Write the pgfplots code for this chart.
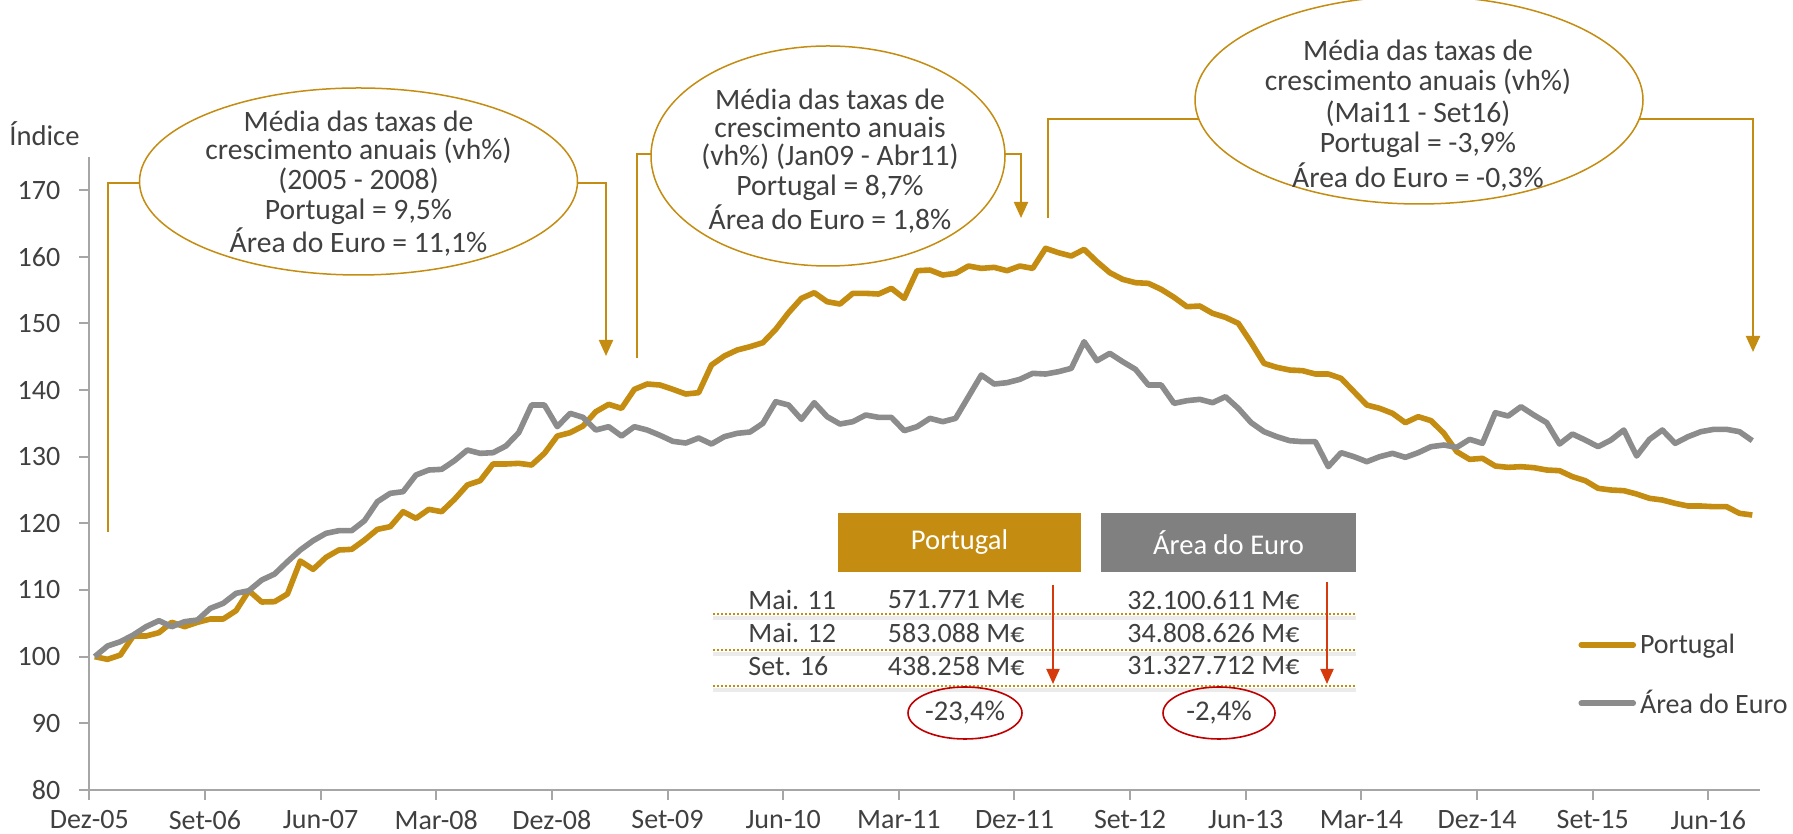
\documentclass[border=0pt]{standalone}
\usepackage{fontspec}
\setmainfont{Carlito}
\usepackage{pgfplots}
\usepackage{pgfplotstable}
\pgfplotsset{compat=1.18}
\usetikzlibrary{arrows.meta}
\definecolor{gold}{HTML}{C48C10}
\definecolor{lgray}{HTML}{8C8C8C}
\definecolor{hgray}{HTML}{808080}
\definecolor{txt}{HTML}{404040}
\definecolor{axgray}{HTML}{A6A6A6}
\definecolor{redar}{HTML}{D63A0C}
\definecolor{redel}{HTML}{C00000}

\pgfplotstableread{
i pt ea
0 100 100
1 99.6 101.6
2 100.25 102.25
3 103.1 103.25
4 103.1 104.5
5 103.6 105.4
6 105.15 104.5
7 104.5 105.25
8 105.15 105.5
9 105.65 107.25
10 105.65 108
11 106.9 109.5
12 109.9 109.9
13 108.2 111.5
14 108.25 112.4
15 109.4 114.25
16 114.35 116
17 113.1 117.4
18 114.9 118.5
19 116 118.9
20 116.1 118.9
21 117.5 120.4
22 119.1 123.25
23 119.5 124.5
24 121.75 124.75
25 120.75 127.25
26 122.1 128
27 121.75 128.1
28 123.6 129.4
29 125.75 131
30 126.4 130.5
31 128.9 130.6
32 128.9 131.6
33 129 133.6
34 128.75 137.75
35 130.5 137.75
36 133.1 134.5
37 133.6 136.5
38 134.6 135.9
39 136.75 134
40 137.85 134.5
41 137.25 133.1
42 140.1 134.5
43 140.9 134
44 140.75 133.2
45 140.1 132.3
46 139.4 132.05
47 139.6 132.8
48 143.75 131.9
49 145.1 133
50 146 133.5
51 146.5 133.7
52 147.1 135
53 149.1 138.25
54 151.6 137.75
55 153.75 135.6
56 154.6 138.1
57 153.25 136
58 152.9 134.9
59 154.5 135.25
60 154.5 136.25
61 154.4 135.9
62 155.25 135.9
63 153.75 133.9
64 157.9 134.5
65 158 135.75
66 157.25 135.25
67 157.5 135.75
68 158.6 139
69 158.25 142.25
70 158.4 140.9
71 157.9 141.1
72 158.6 141.6
73 158.25 142.5
74 161.25 142.4
75 160.6 142.75
76 160.1 143.25
77 161.1 147.25
78 159.25 144.4
79 157.6 145.5
80 156.6 144.25
81 156.1 143.1
82 156 140.75
83 155.1 140.75
84 153.9 138
85 152.5 138.4
86 152.6 138.6
87 151.5 138.1
88 150.9 139
89 150 137.25
90 147.1 135.1
91 144 133.75
92 143.4 133
93 143 132.4
94 142.9 132.25
95 142.4 132.25
96 142.4 128.5
97 141.75 130.6
98 139.75 130
99 137.75 129.25
100 137.25 130
101 136.5 130.5
102 135.1 129.9
103 136 130.6
104 135.4 131.5
105 133.5 131.75
106 130.75 131.4
107 129.6 132.6
108 129.75 132
109 128.6 136.6
110 128.4 136.1
111 128.5 137.5
112 128.35 136.25
113 128 135.1
114 127.9 131.9
115 127 133.4
116 126.4 132.5
117 125.25 131.5
118 125 132.5
119 124.9 134
120 124.4 130.1
121 123.75 132.6
122 123.5 134
123 123 132
124 122.6 133
125 122.6 133.75
126 122.5 134.1
127 122.5 134.1
128 121.5 133.75
129 121.25 132.4
}\datatable

\begin{document}
\begin{tikzpicture}[font=\fontsize{14.3}{17}\selectfont, text=txt]
\useasboundingbox (-44.65pt,-22pt) rectangle (851.85pt,395pt);
\begin{axis}[
  at={(0pt,0pt)}, anchor=south west,
  scale only axis, width=835.35pt, height=316.65pt,
  xmin=-0.42, xmax=129.6, ymin=80, ymax=175,
  axis x line=bottom, axis y line=left,
  axis line style={draw=axgray, line width=1pt, -},
  tick style={draw=axgray, line width=1pt},
  tick align=outside, major tick length=5pt,
  xtick={-0.42,8.58,17.58,26.58,35.58,44.58,53.58,62.58,71.58,80.58,89.58,98.58,107.58,116.58,125.58},
  xticklabels={Dez-05,Set-06,Jun-07,Mar-08,Dez-08,Set-09,Jun-10,Mar-11,Dez-11,Set-12,Jun-13,Mar-14,Dez-14,Set-15,Jun-16},
  ytick={80,90,100,110,120,130,140,150,160,170},
  ticklabel style={font=\fontsize{14}{16}\selectfont, text=txt},
  xticklabel style={inner sep=1pt, yshift=-4pt},
  yticklabel style={xshift=-6pt},
  /pgf/number format/assume math mode=true,
  clip=false,
  legend style={at={(0.8911,0.1816)}, anchor=west, draw=none, fill=none, inner sep=0pt,
    row sep=15pt, font=\fontsize{14}{16}\selectfont, text=txt,
    nodes={inner sep=1pt, anchor=west}},
  legend cell align=left,
  legend image code/.code={\draw[#1, line cap=round] (0pt,0pt) -- (26pt,0pt); \path (27pt,0pt);},
]
\addplot[gold, line width=2.8pt, line join=round] table[x=i,y=pt]{\datatable};
\addplot[lgray, line width=2.8pt, line join=round] table[x=i,y=ea]{\datatable};
\legend{Portugal, Área do Euro}
\end{axis}
\begin{scope}[x=0.5pt,y=-0.5pt,shift={(-44.65pt,395pt)}]
  % y label
  \node[anchor=west, inner sep=0pt] at (9,134) {Índice};
  % connectors
  \draw[gold, line width=1.1pt] (108,532) -- (108,183) -- (150,183);
  \draw[gold, line width=1.1pt, -{Triangle[width=7pt,length=8pt]}] (560,183) -- (606,183) -- (606,356);
  \draw[gold, line width=1.1pt] (637,358) -- (637,154) -- (660,154);
  \draw[gold, line width=1.1pt, -{Triangle[width=7pt,length=8pt]}] (990,154) -- (1021,154) -- (1021,218);
  \draw[gold, line width=1.1pt, -{Triangle[width=7pt,length=8pt]}] (1048,218) -- (1048,119) -- (1753,119) -- (1753,352);
  % ellipses
  \draw[gold, line width=0.75pt, fill=white] (358.5,181.5) ellipse [x radius=109.5pt, y radius=46.75pt];
  \draw[gold, line width=0.75pt, fill=white] (828,156) ellipse [x radius=88.5pt, y radius=55pt];
  \draw[gold, line width=0.75pt, fill=white] (1419,100) ellipse [x radius=112pt, y radius=52pt];
  % ellipse texts
  \begin{scope}[font=\fontsize{14.8}{17}\selectfont]
  \node at (358.5,121) {Média das taxas de};
  \node at (358.5,151) {crescimento anuais (vh\%)};
  \node at (358.5,181) {(2005 - 2008)};
  \node at (358.5,211.5) {Portugal = 9,5\%};
  \node at (358.5,242) {Área do Euro = 11,1\%};
  \node at (830,99.5) {Média das taxas de};
  \node at (830,127) {crescimento anuais};
  \node at (830,157) {(vh\%) (Jan09 - Abr11)};
  \node at (830,187.5) {Portugal = 8,7\%};
  \node at (830,219.5) {Área do Euro = 1,8\%};
  \node at (1418,50) {Média das taxas de};
  \node at (1418,82) {crescimento anuais (vh\%)};
  \node at (1418,114) {(Mai11 - Set16)};
  \node at (1418,145) {Portugal = -3,9\%};
  \node at (1418,177) {Área do Euro = -0,3\%};
  \end{scope}
  % table headers
  \fill[gold] (838,513) rectangle (1081,572);
  \fill[hgray] (1101,513) rectangle (1356,572);
  \node[text=white] at (959.5,542.5) {Portugal};
  \node[text=white] at (1228.5,542.5) {Área do Euro};
  % shadows and dotted lines
  \foreach \yy in {614,650,686} {
    \draw[black!8, line width=2pt] (713,\yy+4) -- (1356,\yy+4);
    \draw[gold, line width=1pt, dash pattern=on 1pt off 1pt] (713,\yy) -- (1356,\yy);
  }
  % rows
  \begin{scope}[font=\fontsize{14}{16}\selectfont]
  \node[anchor=west, inner sep=0pt] at (748,600) {Mai. 11};
  \node[anchor=west, inner sep=0pt] at (748,633) {Mai. 12};
  \node[anchor=west, inner sep=0pt] at (748,666) {Set. 16};
  \node[anchor=east, inner sep=0pt] at (1025,600) {571.771 M€};
  \node[anchor=east, inner sep=0pt] at (1025,633) {583.088 M€};
  \node[anchor=east, inner sep=0pt] at (1025,666) {438.258 M€};
  \node[anchor=east, inner sep=0pt] at (1300,600) {32.100.611 M€};
  \node[anchor=east, inner sep=0pt] at (1300,633) {34.808.626 M€};
  \node[anchor=east, inner sep=0pt] at (1300,666) {31.327.712 M€};
  \end{scope}
  % red arrows
  \draw[redar, line width=1pt, -{Triangle[width=6.5pt,length=7.5pt]}] (1053,585) -- (1053,684);
  \draw[redar, line width=1pt, -{Triangle[width=6.5pt,length=7.5pt]}] (1327,582) -- (1327,684);
  % red ellipses
  \draw[redel, line width=0.8pt] (965,713) ellipse [x radius=28.5pt, y radius=13pt];
  \draw[redel, line width=0.8pt] (1219,713) ellipse [x radius=28pt, y radius=13pt];
  \node at (965,713) {-23,4\%};
  \node at (1219,713) {-2,4\%};
\end{scope}
\end{tikzpicture}
\end{document}
